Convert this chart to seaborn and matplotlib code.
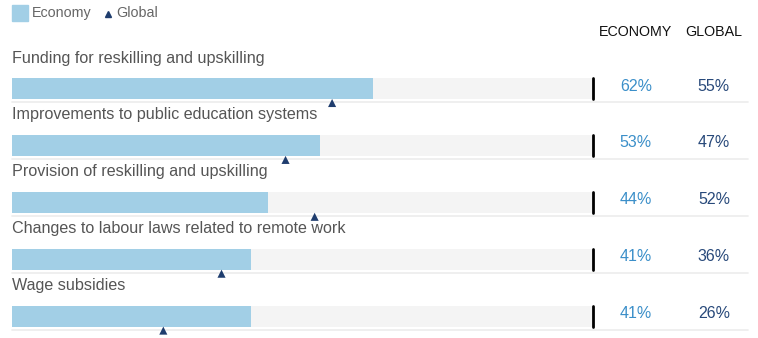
import numpy as np
import pandas as pd
import matplotlib.pyplot as plt
import seaborn as sns

# data
measures = ['Funding for reskilling and upskilling',
            'Improvements to public education systems',
            'Provision of reskilling and upskilling',
            'Changes to labour laws related to remote work',
            'Wage subsidies']
economy = [62, 53, 44, 41, 41]
global_avg = [55, 47, 52, 36, 26]

bar_blue = '#a2cfe6'
track_grey = '#f4f4f4'
eco_txt = '#3b8fc9'
glob_txt = '#28497a'
tri_col = '#1f3d6e'

sns.set_style('white')
plt.rcParams['font.family'] = ['Liberation Sans', 'DejaVu Sans']

df = pd.DataFrame({'measure': measures, 'economy': economy, 'global': global_avg})
df['full'] = 100
pos = np.arange(len(df))

W, H = 758, 338
fig = plt.figure(figsize=(W / 100, H / 100), dpi=100)
# axes: x 0..100 maps to 12px..594px, full height
ax = fig.add_axes([12 / W, 0, 582 / W, 1])

row_px = 56.9
top_px = 88.5

bw = 21 / row_px
sns.barplot(data=df, x='full', y='measure', orient='h', color=track_grey,
            width=bw, saturation=1, linewidth=0, ax=ax)
sns.barplot(data=df, x='economy', y='measure', orient='h', color=bar_blue,
            width=bw, saturation=1, linewidth=0, ax=ax)
ax.set_ylim((H - top_px) / row_px, -top_px / row_px)
ax.set_xlim(0, 100)

# separator lines below each bar, and the black end marker
sep = 13.5 / row_px
for p in pos:
    ax.plot([0, 126.5], [p + sep, p + sep], color='#ececec', lw=1.2,
            clip_on=False, zorder=1)
    ax.plot([99.8, 99.8], [p - bw / 2, p + bw / 2], color='black', lw=2,
            clip_on=False, zorder=4)

sns.scatterplot(x=df['global'], y=pos + 14.5 / row_px, marker='^', s=34,
                color=tri_col, edgecolor='none', ax=ax, zorder=5, clip_on=False)

eco_x, glob_x = 107.2, 120.6
for p, m, e, g in zip(pos, measures, economy, global_avg):
    ax.text(0, p - 30.5 / row_px, m, fontsize=11.6, color='#555555',
            va='center', ha='left')
    ax.text(eco_x, p - 2.5 / row_px, f'{e}%', fontsize=11.5, color=eco_txt,
            va='center', ha='center', clip_on=False)
    ax.text(glob_x, p - 2.5 / row_px, f'{g}%', fontsize=11.5, color=glob_txt,
            va='center', ha='center', clip_on=False)

# column headers
ax.text(eco_x, -(top_px - 32) / row_px, 'ECONOMY', fontsize=10.3,
        color='#111111', ha='center', va='center')
ax.text(glob_x, -(top_px - 32) / row_px, 'GLOBAL', fontsize=10.3,
        color='#111111', ha='center', va='center')

# legend
fig.patches.append(plt.Rectangle((12 / W, 1 - 21 / H), 16 / W, 16 / H,
                                 transform=fig.transFigure, color=bar_blue))
fig.text(32 / W, 1 - 13 / H, 'Economy', fontsize=10.3, color='#666666',
         va='center')
fig.lines.append(plt.Line2D([108 / W], [1 - 13.5 / H], marker='^',
                            markersize=5, color=tri_col, linestyle='none',
                            transform=fig.transFigure))
fig.text(116 / W, 1 - 13 / H, 'Global', fontsize=10.3, color='#666666',
         va='center')

ax.set_xlabel('')
ax.set_ylabel('')
ax.set_xticks([])
ax.set_yticks([])
sns.despine(ax=ax, left=True, bottom=True)

fig.savefig('out.png', dpi=100)
